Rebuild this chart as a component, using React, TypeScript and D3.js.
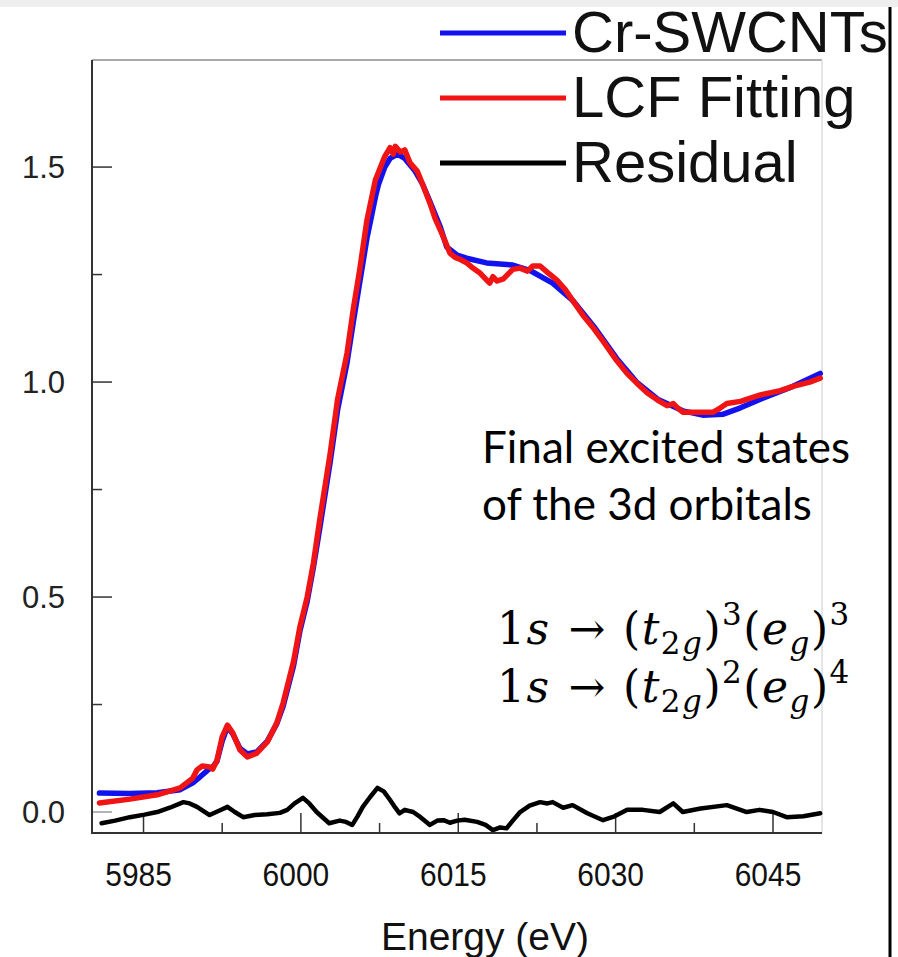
import React from "react";
import * as d3 from "d3";

// Cr K-edge XANES: measured spectrum, linear-combination fit and residual
const energyCr = [5980.8, 5983.7, 5986.3, 5988.5, 5989.7, 5990.4, 5991.1, 5991.6, 5992.0, 5992.5, 5993.0, 5993.5, 5994.2, 5994.9, 5995.8, 5996.8, 5997.7, 5998.3, 5999.3, 5999.9, 6000.6, 6001.2, 6001.8, 6002.8, 6003.5, 6004.4, 6005.0, 6005.6, 6006.3, 6006.6, 6007.1, 6007.4, 6008.0, 6008.5, 6009.2, 6009.9, 6010.9, 6011.6, 6012.3, 6013.3, 6013.9, 6014.9, 6015.8, 6017.7, 6020.2, 6021.8, 6024.0, 6025.9, 6027.9, 6030.1, 6032.0, 6034.0, 6036.4, 6038.3, 6040.2, 6041.9, 6043.8, 6046.9, 6049.5];
const muCr = [0.044, 0.043, 0.045, 0.052, 0.068, 0.082, 0.097, 0.105, 0.118, 0.165, 0.198, 0.182, 0.148, 0.135, 0.14, 0.165, 0.205, 0.245, 0.34, 0.42, 0.49, 0.57, 0.66, 0.815, 0.935, 1.045, 1.14, 1.23, 1.335, 1.37, 1.43, 1.46, 1.5, 1.52, 1.53, 1.52, 1.49, 1.46, 1.42, 1.36, 1.314, 1.295, 1.288, 1.277, 1.272, 1.26, 1.23, 1.19, 1.13, 1.055, 1.0, 0.96, 0.933, 0.923, 0.925, 0.94, 0.96, 0.99, 1.02];

const energyFit = [5980.8, 5983.7, 5986.3, 5988.5, 5989.7, 5990.1, 5990.6, 5991.3, 5991.6, 5992.0, 5992.5, 5993.0, 5993.5, 5994.2, 5994.9, 5995.8, 5996.8, 5997.7, 5998.3, 5999.3, 5999.9, 6000.6, 6001.2, 6001.8, 6002.8, 6003.5, 6004.4, 6005.0, 6005.6, 6006.3, 6007.1, 6008.0, 6008.5, 6008.8, 6009.0, 6009.5, 6009.9, 6010.4, 6011.1, 6011.6, 6012.3, 6012.8, 6013.3, 6013.7, 6014.2, 6014.7, 6015.2, 6015.8, 6016.4, 6017.1, 6017.6, 6018.0, 6018.3, 6018.7, 6019.3, 6019.7, 6020.2, 6020.9, 6021.6, 6022.1, 6022.8, 6023.5, 6024.0, 6024.4, 6025.2, 6025.9, 6026.9, 6027.9, 6028.8, 6030.1, 6031.1, 6032.0, 6033.0, 6034.0, 6034.9, 6035.5, 6035.9, 6036.4, 6038.1, 6039.3, 6040.0, 6040.6, 6041.9, 6043.8, 6045.7, 6046.9, 6048.5, 6049.5];
const muFit = [0.021, 0.03, 0.04, 0.056, 0.079, 0.098, 0.107, 0.105, 0.1, 0.12, 0.175, 0.202, 0.184, 0.144, 0.128, 0.137, 0.163, 0.207, 0.253, 0.35, 0.43, 0.5, 0.58, 0.68, 0.835, 0.96, 1.067, 1.17, 1.26, 1.377, 1.47, 1.525, 1.545, 1.53, 1.548, 1.535, 1.54, 1.51, 1.49, 1.46, 1.416, 1.38, 1.353, 1.33, 1.3, 1.29, 1.285, 1.277, 1.265, 1.253, 1.24, 1.23, 1.245, 1.235, 1.24, 1.25, 1.262, 1.265, 1.258, 1.27, 1.27, 1.255, 1.245, 1.237, 1.215, 1.19, 1.155, 1.125, 1.095, 1.05, 1.02, 0.998, 0.975, 0.958, 0.945, 0.95, 0.94, 0.93, 0.93, 0.93, 0.94, 0.95, 0.955, 0.97, 0.98, 0.99, 1.0, 1.009];

const energyRes = [5981.0, 5982.3, 5983.7, 5985.1, 5986.3, 5987.5, 5988.8, 5989.4, 5990.1, 5991.3, 5992.3, 5993.0, 5993.7, 5994.5, 5995.6, 5996.8, 5998.0, 5998.7, 5999.4, 6000.2, 6000.8, 6001.5, 6002.7, 6003.7, 6004.3, 6004.9, 6005.4, 6005.9, 6006.6, 6007.3, 6007.9, 6008.5, 6009.0, 6009.4, 6009.9, 6010.7, 6011.4, 6012.3, 6013.0, 6013.6, 6014.2, 6014.9, 6015.6, 6016.8, 6017.6, 6018.3, 6019.0, 6019.6, 6020.2, 6020.9, 6021.8, 6022.8, 6023.5, 6024.0, 6025.0, 6025.9, 6027.3, 6028.8, 6029.9, 6031.1, 6032.6, 6034.2, 6035.5, 6036.4, 6038.1, 6040.6, 6042.5, 6043.7, 6045.0, 6046.3, 6047.9, 6049.5];
const muRes = [-0.026, -0.02, -0.012, -0.006, 0.0, 0.01, 0.023, 0.02, 0.012, -0.007, 0.004, 0.012, 0.0, -0.012, -0.007, -0.005, -0.002, 0.005, 0.02, 0.033, 0.02, 0.0, -0.026, -0.02, -0.023, -0.03, -0.01, 0.012, 0.035, 0.056, 0.048, 0.028, 0.01, -0.003, 0.005, 0.0, -0.012, -0.03, -0.02, -0.019, -0.025, -0.02, -0.018, -0.023, -0.03, -0.042, -0.036, -0.038, -0.02, 0.0, 0.015, 0.023, 0.02, 0.023, 0.01, 0.016, -0.003, -0.019, -0.01, 0.005, 0.005, 0.0, 0.02, 0.0, 0.008, 0.016, 0.0, 0.005, 0.0, -0.012, -0.01, -0.003];

const xMajorTicks = [5985, 6000, 6015, 6030, 6045];
const xMinorTicks = [5992.5, 6007.5, 6022.5, 6037.5];
const yMajorTicks = [0, 0.5, 1.0, 1.5];
const yMinorTicks = [0.25, 0.75, 1.25];

const legendLabels = ["Cr-SWCNTs", "LCF Fitting", "Residual"];
const seriesColors = ["#1212ee", "#f01414", "#000000"];

const W = 898;
const H = 957;
const left = 92;
const right = 822;
const top = 60;
const bottom = 833;

export default function App() {
  const x = d3.scaleLinear().domain([5980.09, 6049.67]).range([left, right]);
  const y = d3.scaleLinear().domain([-0.0488, 1.749]).range([bottom, top]);

  const line = d3
    .line<[number, number]>()
    .x((d) => x(d[0]))
    .y((d) => y(d[1]))
    .curve(d3.curveLinear);

  const pairs = (es: number[], vs: number[]) => es.map((e, i) => [e, vs[i]] as [number, number]);
  const series = [pairs(energyCr, muCr), pairs(energyFit, muFit), pairs(energyRes, muRes)];
  const widths = [5.5, 5.5, 4.5];

  const sans = "'Liberation Sans', Arial, sans-serif";
  const serif = "'DejaVu Serif', serif";
  const sub = 31;

  const mathLine = (yy: number, a: string, b: string) => (
    <text x={497} y={yy} fontFamily={serif} fontSize={44} fill="#000" letterSpacing={1.5}>
      <tspan>1</tspan>
      <tspan fontStyle="italic">s</tspan>
      <tspan dx={18}>→</tspan>
      <tspan dx={16}>(</tspan>
      <tspan fontStyle="italic">t</tspan>
      <tspan fontSize={sub} dy={10}>2</tspan>
      <tspan fontSize={sub} fontStyle="italic">g</tspan>
      <tspan dy={-10}>)</tspan>
      <tspan fontSize={sub} dy={-19}>{a}</tspan>
      <tspan dy={19}>(</tspan>
      <tspan fontStyle="italic">e</tspan>
      <tspan fontSize={sub} dy={10} fontStyle="italic">g</tspan>
      <tspan dy={-10}>)</tspan>
      <tspan fontSize={sub} dy={-19}>{b}</tspan>
    </text>
  );

  return (
    <svg width={W} height={H} style={{ position: "absolute", left: 0, top: 0, background: "#fff" }}>
      <rect x={0} y={0} width={W} height={7} fill="#eeeeee" />
      <line x1={890} x2={890} y1={7} y2={H} stroke="#000" strokeWidth={3} />

      {/* frame */}
      <line x1={left} x2={right} y1={top} y2={top} stroke="#8c8c8c" strokeWidth={1.5} />
      <line x1={right} x2={right} y1={top} y2={bottom} stroke="#dddddd" strokeWidth={1.5} />

      {/* y ticks */}
      {yMajorTicks.map((t) => (
        <g key={"ym" + t}>
          <line x1={left} x2={left + 20} y1={y(t)} y2={y(t)} stroke={t === 0 ? "#999" : "#333"} strokeWidth={1.5} />
          <text x={65} y={y(t) + 11} textAnchor="end" fontFamily={sans} fontSize={31} fill="#222">
            {d3.format(".1f")(t)}
          </text>
        </g>
      ))}
      {yMinorTicks.map((t) => (
        <line key={"yn" + t} x1={left} x2={left + 10} y1={y(t)} y2={y(t)} stroke="#333" strokeWidth={1.5} />
      ))}

      {/* x ticks */}
      {xMajorTicks.map((t) => (
        <g key={"xm" + t}>
          <line x1={x(t)} x2={x(t)} y1={bottom} y2={bottom - 20} stroke="#333" strokeWidth={1.5} />
          <text
            transform={`translate(${x(t) - 5},886) scale(0.88,1)`}
            textAnchor="middle"
            fontFamily={sans}
            fontSize={34}
            fill="#111"
          >
            {t}
          </text>
        </g>
      ))}
      {xMinorTicks.map((t) => (
        <line key={"xn" + t} x1={x(t)} x2={x(t)} y1={bottom} y2={bottom - 10} stroke="#333" strokeWidth={1.5} />
      ))}

      {/* curves */}
      {series.map((d, i) => (
        <path
          key={i}
          d={line(d) || ""}
          fill="none"
          stroke={seriesColors[i]}
          strokeWidth={widths[i]}
          strokeLinejoin="round"
          strokeLinecap="round"
        />
      ))}

      {/* axes */}
      <line x1={left} x2={left} y1={top} y2={bottom + 1} stroke="#333" strokeWidth={2} />
      <line x1={left} x2={right} y1={bottom} y2={bottom} stroke="#333" strokeWidth={2} />

      <text x={485} y={950} textAnchor="middle" fontFamily={sans} fontSize={39} fill="#111">
        Energy (eV)
      </text>

      {/* legend */}
      {legendLabels.map((lab, i) => (
        <g key={lab}>
          <line x1={440} x2={566} y1={33 + i * 65} y2={33 + i * 65} stroke={seriesColors[i]} strokeWidth={5} />
          <text x={572} y={52 + i * 65} fontFamily={sans} fontSize={58} fill="#111">
            {lab}
          </text>
        </g>
      ))}

      {/* annotation */}
      <text x={482} y={463} fontFamily="Lato, sans-serif" fontSize={44} fill="#000">
        Final excited states
      </text>
      <text x={482} y={520} fontFamily="Lato, sans-serif" fontSize={44} fill="#000">
        of the 3d orbitals
      </text>
      {mathLine(644, "3", "3")}
      {mathLine(702, "2", "4")}
    </svg>
  );
}
